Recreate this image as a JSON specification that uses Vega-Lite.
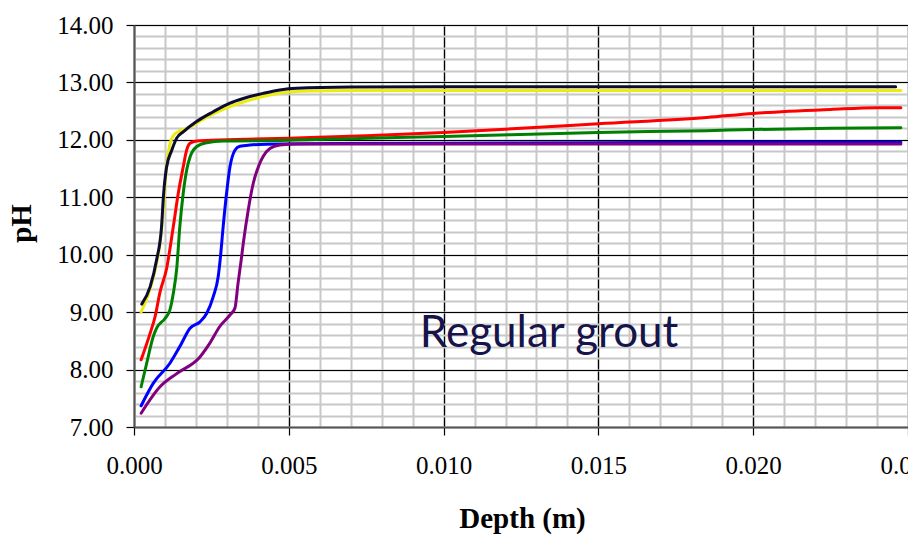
{
  "$schema": "https://vega.github.io/schema/vega-lite/v6.json",
  "width": 774,
  "height": 402,
  "autosize": {"type": "none"},
  "padding": {"left": 134, "top": 25, "right": 0, "bottom": 115},
  "background": "white",
  "config": {
    "view": {"stroke": null},
    "font": "Times New Roman",
    "axis": {"labelFont": "Times New Roman", "titleFont": "Times New Roman"}
  },
  "datasets": {
    "curves": [
      {"series": "S1", "d": 0.00023, "pH": 9.0},
      {"series": "S1", "d": 0.00063, "pH": 9.62},
      {"series": "S1", "d": 0.00084, "pH": 10.2},
      {"series": "S1", "d": 0.00095, "pH": 10.78},
      {"series": "S1", "d": 0.00103, "pH": 11.42},
      {"series": "S1", "d": 0.00113, "pH": 11.85},
      {"series": "S1", "d": 0.00128, "pH": 12.08},
      {"series": "S1", "d": 0.0015, "pH": 12.16},
      {"series": "S1", "d": 0.0018, "pH": 12.22},
      {"series": "S1", "d": 0.00205, "pH": 12.3},
      {"series": "S1", "d": 0.00256, "pH": 12.45},
      {"series": "S1", "d": 0.0031, "pH": 12.58},
      {"series": "S1", "d": 0.0036, "pH": 12.67},
      {"series": "S1", "d": 0.0042, "pH": 12.76},
      {"series": "S1", "d": 0.0048, "pH": 12.82},
      {"series": "S1", "d": 0.0054, "pH": 12.845},
      {"series": "S1", "d": 0.007, "pH": 12.86},
      {"series": "S1", "d": 0.01, "pH": 12.86},
      {"series": "S1", "d": 0.015, "pH": 12.86},
      {"series": "S1", "d": 0.02, "pH": 12.86},
      {"series": "S1", "d": 0.02477, "pH": 12.86},

      {"series": "S2", "d": 0.00025, "pH": 9.14},
      {"series": "S2", "d": 0.00052, "pH": 9.44},
      {"series": "S2", "d": 0.00073, "pH": 9.91},
      {"series": "S2", "d": 0.00089, "pH": 10.49},
      {"series": "S2", "d": 0.00095, "pH": 11.01},
      {"series": "S2", "d": 0.00105, "pH": 11.52},
      {"series": "S2", "d": 0.00122, "pH": 11.82},
      {"series": "S2", "d": 0.00138, "pH": 12.03},
      {"series": "S2", "d": 0.00159, "pH": 12.14},
      {"series": "S2", "d": 0.00202, "pH": 12.32},
      {"series": "S2", "d": 0.00256, "pH": 12.49},
      {"series": "S2", "d": 0.0031, "pH": 12.64},
      {"series": "S2", "d": 0.00353, "pH": 12.72},
      {"series": "S2", "d": 0.00417, "pH": 12.81},
      {"series": "S2", "d": 0.00471, "pH": 12.87},
      {"series": "S2", "d": 0.00525, "pH": 12.9},
      {"series": "S2", "d": 0.007, "pH": 12.92},
      {"series": "S2", "d": 0.01, "pH": 12.925},
      {"series": "S2", "d": 0.015, "pH": 12.925},
      {"series": "S2", "d": 0.02, "pH": 12.925},
      {"series": "S2", "d": 0.0246, "pH": 12.925},

      {"series": "S3", "d": 0.00023, "pH": 8.17},
      {"series": "S3", "d": 0.00052, "pH": 8.63},
      {"series": "S3", "d": 0.00068, "pH": 8.92},
      {"series": "S3", "d": 0.00084, "pH": 9.35},
      {"series": "S3", "d": 0.00105, "pH": 9.75},
      {"series": "S3", "d": 0.00127, "pH": 10.49},
      {"series": "S3", "d": 0.00143, "pH": 11.07},
      {"series": "S3", "d": 0.00159, "pH": 11.53},
      {"series": "S3", "d": 0.0017, "pH": 11.82},
      {"series": "S3", "d": 0.00181, "pH": 11.94},
      {"series": "S3", "d": 0.00202, "pH": 11.98},
      {"series": "S3", "d": 0.003, "pH": 12.0},
      {"series": "S3", "d": 0.005, "pH": 12.03},
      {"series": "S3", "d": 0.0075, "pH": 12.07},
      {"series": "S3", "d": 0.01, "pH": 12.13},
      {"series": "S3", "d": 0.0125, "pH": 12.2},
      {"series": "S3", "d": 0.015, "pH": 12.28},
      {"series": "S3", "d": 0.0185, "pH": 12.39},
      {"series": "S3", "d": 0.02, "pH": 12.46},
      {"series": "S3", "d": 0.0225, "pH": 12.53},
      {"series": "S3", "d": 0.024, "pH": 12.56},
      {"series": "S3", "d": 0.02477, "pH": 12.56},

      {"series": "S4", "d": 0.00023, "pH": 7.7},
      {"series": "S4", "d": 0.00041, "pH": 8.11},
      {"series": "S4", "d": 0.00062, "pH": 8.57},
      {"series": "S4", "d": 0.00073, "pH": 8.72},
      {"series": "S4", "d": 0.001, "pH": 8.89},
      {"series": "S4", "d": 0.00116, "pH": 9.04},
      {"series": "S4", "d": 0.00127, "pH": 9.33},
      {"series": "S4", "d": 0.00138, "pH": 9.76},
      {"series": "S4", "d": 0.00148, "pH": 10.49},
      {"series": "S4", "d": 0.00159, "pH": 11.07},
      {"series": "S4", "d": 0.0017, "pH": 11.47},
      {"series": "S4", "d": 0.00181, "pH": 11.7},
      {"series": "S4", "d": 0.00202, "pH": 11.88},
      {"series": "S4", "d": 0.00235, "pH": 11.95},
      {"series": "S4", "d": 0.00288, "pH": 11.98},
      {"series": "S4", "d": 0.0047, "pH": 11.99},
      {"series": "S4", "d": 0.0075, "pH": 12.03},
      {"series": "S4", "d": 0.01, "pH": 12.06},
      {"series": "S4", "d": 0.015, "pH": 12.13},
      {"series": "S4", "d": 0.0185, "pH": 12.16},
      {"series": "S4", "d": 0.02, "pH": 12.18},
      {"series": "S4", "d": 0.0225, "pH": 12.2},
      {"series": "S4", "d": 0.02477, "pH": 12.21},

      {"series": "S5", "d": 0.00023, "pH": 7.37},
      {"series": "S5", "d": 0.00062, "pH": 7.76},
      {"series": "S5", "d": 0.00116, "pH": 8.11},
      {"series": "S5", "d": 0.00148, "pH": 8.4},
      {"series": "S5", "d": 0.00181, "pH": 8.72},
      {"series": "S5", "d": 0.00213, "pH": 8.83},
      {"series": "S5", "d": 0.00235, "pH": 8.98},
      {"series": "S5", "d": 0.00256, "pH": 9.27},
      {"series": "S5", "d": 0.00272, "pH": 9.62},
      {"series": "S5", "d": 0.00279, "pH": 9.95},
      {"series": "S5", "d": 0.00288, "pH": 10.49},
      {"series": "S5", "d": 0.00299, "pH": 11.07},
      {"series": "S5", "d": 0.0031, "pH": 11.53},
      {"series": "S5", "d": 0.00326, "pH": 11.82},
      {"series": "S5", "d": 0.00342, "pH": 11.89},
      {"series": "S5", "d": 0.00374, "pH": 11.91},
      {"series": "S5", "d": 0.00471, "pH": 11.93},
      {"series": "S5", "d": 0.01, "pH": 11.94},
      {"series": "S5", "d": 0.015, "pH": 11.95},
      {"series": "S5", "d": 0.02, "pH": 11.96},
      {"series": "S5", "d": 0.02477, "pH": 11.96},

      {"series": "S6", "d": 0.00023, "pH": 7.24},
      {"series": "S6", "d": 0.00084, "pH": 7.7},
      {"series": "S6", "d": 0.00138, "pH": 7.93},
      {"series": "S6", "d": 0.00213, "pH": 8.22},
      {"series": "S6", "d": 0.00245, "pH": 8.46},
      {"series": "S6", "d": 0.00277, "pH": 8.75},
      {"series": "S6", "d": 0.0031, "pH": 8.95},
      {"series": "S6", "d": 0.00326, "pH": 9.07},
      {"series": "S6", "d": 0.00336, "pH": 9.5},
      {"series": "S6", "d": 0.00346, "pH": 9.9},
      {"series": "S6", "d": 0.00353, "pH": 10.2},
      {"series": "S6", "d": 0.00369, "pH": 10.78},
      {"series": "S6", "d": 0.00385, "pH": 11.24},
      {"series": "S6", "d": 0.00403, "pH": 11.55},
      {"series": "S6", "d": 0.00417, "pH": 11.71},
      {"series": "S6", "d": 0.00439, "pH": 11.85},
      {"series": "S6", "d": 0.00471, "pH": 11.91},
      {"series": "S6", "d": 0.00525, "pH": 11.93},
      {"series": "S6", "d": 0.01, "pH": 11.93},
      {"series": "S6", "d": 0.015, "pH": 11.93},
      {"series": "S6", "d": 0.02, "pH": 11.93},
      {"series": "S6", "d": 0.02477, "pH": 11.93}
    ],
    "note": [
      {"d": 0.00923, "pH": 8.39, "label": "Regular grout"}
    ]
  },
  "layer": [
    {
      "data": {"name": "curves"},
      "mark": {"type": "line", "strokeWidth": 3, "interpolate": "monotone", "strokeCap": "round", "strokeJoin": "round", "clip": true},
      "encoding": {
        "x": {
          "field": "d", "type": "quantitative",
          "scale": {"domain": [0, 0.025], "nice": false, "zero": false},
          "axis": {"orient": "top", "values": [0,0.001,0.002,0.003,0.004,0.005,0.006,0.007,0.008,0.009,0.01,0.011,0.012,0.013,0.014,0.015,0.016,0.017,0.018,0.019,0.02,0.021,0.022,0.023,0.024,0.025],
            "grid": true, "gridColor": "#c8c8c8", "gridWidth": 2, "labels": false, "ticks": false, "domain": false, "title": null, "zindex": 0}
        },
        "y": {
          "field": "pH", "type": "quantitative",
          "scale": {"domain": [7, 14], "nice": false, "zero": false},
          "axis": {"orient": "right", "values": [7,7.2,7.4,7.6,7.8,8,8.2,8.4,8.6,8.8,9,9.2,9.4,9.6,9.8,10,10.2,10.4,10.6,10.8,11,11.2,11.4,11.6,11.8,12,12.2,12.4,12.6,12.8,13,13.2,13.4,13.6,13.8,14],
            "grid": true, "gridColor": "#c8c8c8", "gridWidth": 2, "labels": false, "ticks": false, "domain": false, "title": null, "zindex": 0}
        },
        "color": {
          "field": "series", "type": "nominal",
          "scale": {"domain": ["S1","S2","S3","S4","S5","S6"], "range": ["#ecec10","#0c0c30","#ff0000","#008000","#0000ff","#800080"]},
          "legend": null
        },
        "order": {"field": "d", "type": "quantitative"}
      }
    },
    {
      "data": {"name": "note"},
      "mark": {"type": "text", "font": "Lato", "fontSize": 44, "color": "#16144a", "align": "left", "baseline": "alphabetic"},
      "encoding": {
        "x": {
          "field": "d", "type": "quantitative",
          "scale": {"domain": [0, 0.025], "nice": false, "zero": false},
          "axis": {"orient": "bottom", "values": [0,0.005,0.01,0.015,0.02,0.025], "format": ".3f",
            "grid": true, "gridColor": "#000000", "gridWidth": 1.2,
            "domain": true, "domainColor": "#555555", "domainWidth": 2,
            "ticks": true, "tickColor": "#000000", "tickSize": 8, "tickWidth": 1.2,
            "labelFont": "Times New Roman", "labelFontSize": 25, "labelColor": "#000000", "labelPadding": 18,
            "labelFlush": false, "labelOverlap": false, "labelBound": false,
            "title": "Depth (m)", "titleFont": "Times New Roman", "titleFontSize": 29, "titleFontWeight": "bold", "titleColor": "#000000",
            "titleX": 388, "titleY": 100, "titleBaseline": "alphabetic", "titleAnchor": null, "titleAlign": "center",
            "zindex": 0}
        },
        "y": {
          "field": "pH", "type": "quantitative",
          "scale": {"domain": [7, 14], "nice": false, "zero": false},
          "axis": {"orient": "left", "values": [7,8,9,10,11,12,13,14], "format": ".2f",
            "grid": true, "gridColor": "#000000", "gridWidth": 1.2,
            "domain": true, "domainColor": "#555555", "domainWidth": 2,
            "ticks": true, "tickColor": "#000000", "tickSize": 8, "tickWidth": 1.2,
            "labelFont": "Times New Roman", "labelFontSize": 25, "labelColor": "#000000", "labelPadding": 13,
            "labelFlush": false, "labelOverlap": false, "labelBound": false,
            "title": "pH", "titleFont": "Times New Roman", "titleFontSize": 29, "titleFontWeight": "bold", "titleColor": "#000000",
            "titleX": -104, "titleY": 198, "titleAngle": -90, "titleBaseline": "alphabetic", "titleAlign": "center",
            "zindex": 0}
        },
        "text": {"field": "label"}
      }
    }
  ],
  "resolve": {"axis": {"x": "independent", "y": "independent"}}
}
